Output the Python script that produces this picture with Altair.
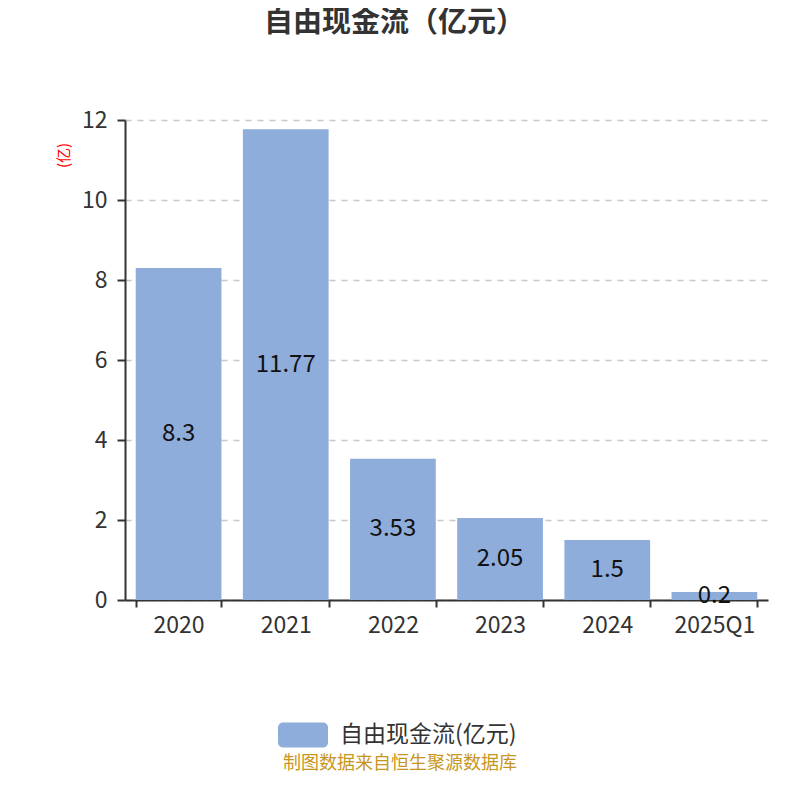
import altair as alt
import pandas as pd

categories = ["2020", "2021", "2022", "2023", "2024", "2025Q1"]
values = [8.3, 11.77, 3.53, 2.05, 1.5, 0.2]
labels = ["8.3", "11.77", "3.53", "2.05", "1.5", "0.2"]
series_name = "自由现金流(亿元)"

df = pd.DataFrame({"cat": categories, "val": values, "label": labels, "series": series_name})
df["half"] = df["val"] / 2

FONT = "Noto Sans CJK SC"
BAR = "#8eaddb"

rr = ("M-0.8,-0.5 H0.8 A0.2,0.2 0 0 1 1,-0.3 V0.3 A0.2,0.2 0 0 1 0.8,0.5 "
      "H-0.8 A0.2,0.2 0 0 1 -1,0.3 V-0.3 A0.2,0.2 0 0 1 -0.8,-0.5 Z")

x = alt.X("cat:N", sort=categories, title=None,
          scale=alt.Scale(paddingInner=0.2, paddingOuter=0.1),
          axis=alt.Axis(labelAngle=0, labelFontSize=23, labelColor="#333333", labelFont=FONT,
                        domainColor="#333333", domainWidth=2, tickColor="#333333", tickWidth=2,
                        tickSize=7, tickBand="extent", labelPadding=7, grid=False))

bars = alt.Chart(df).mark_bar(color=BAR).encode(
    x=x,
    y=alt.Y("val:Q", scale=alt.Scale(domain=[0, 12]),
            axis=alt.Axis(values=[0, 2, 4, 6, 8, 10, 12], title="(亿)", titleColor="red",
                          titleFontSize=15, titleFontWeight="normal", titleFont=FONT,
                          titleX=-62, titleY=35, titleAngle=-90, titleAlign="center",
                          titleBaseline="middle",
                          labelFontSize=23, labelColor="#333333", labelFont=FONT,
                          domainColor="#333333", domainWidth=2, tickColor="#333333",
                          tickWidth=2, tickSize=8, labelPadding=10,
                          grid=True, gridDash=[6, 6], gridColor="#c8c8c8", gridWidth=1.5)),
    fill=alt.Fill("series:N", scale=alt.Scale(range=[BAR]),
                  legend=alt.Legend(title=None, orient="none", legendX=153, legendY=590,
                                    symbolType=rr, symbolSize=2500, symbolStrokeWidth=0,
                                    labelFontSize=23, labelColor="#333333", labelFont=FONT,
                                    labelOffset=12, labelLimit=0)),
)

text = alt.Chart(df).mark_text(fontSize=24, color="#111111", font=FONT, baseline="middle").encode(
    x=alt.X("cat:N", sort=categories),
    y=alt.Y("half:Q"),
    text="label:N",
)

footer = alt.Chart(pd.DataFrame({"t": ["制图数据来自恒生聚源数据库"]})).mark_text(
    fontSize=18, color="#c8961e", font=FONT, align="center", baseline="middle"
).encode(x=alt.value(275), y=alt.value(644), text="t:N")

chart = alt.layer(bars, text, footer).properties(
    width=643, height=480,
    autosize=alt.AutoSizeParams(type="none"),
    padding={"left": 117, "top": 112, "right": 20, "bottom": 180},
    title=alt.TitleParams("自由现金流（亿元）", fontSize=29, fontWeight="bold", color="#333333",
                          font=FONT, anchor="middle", frame="group", dx=-52, offset=71),
).configure_view(stroke=None)

chart.save("out.html", embed_options={"renderer": "svg", "actions": False})
